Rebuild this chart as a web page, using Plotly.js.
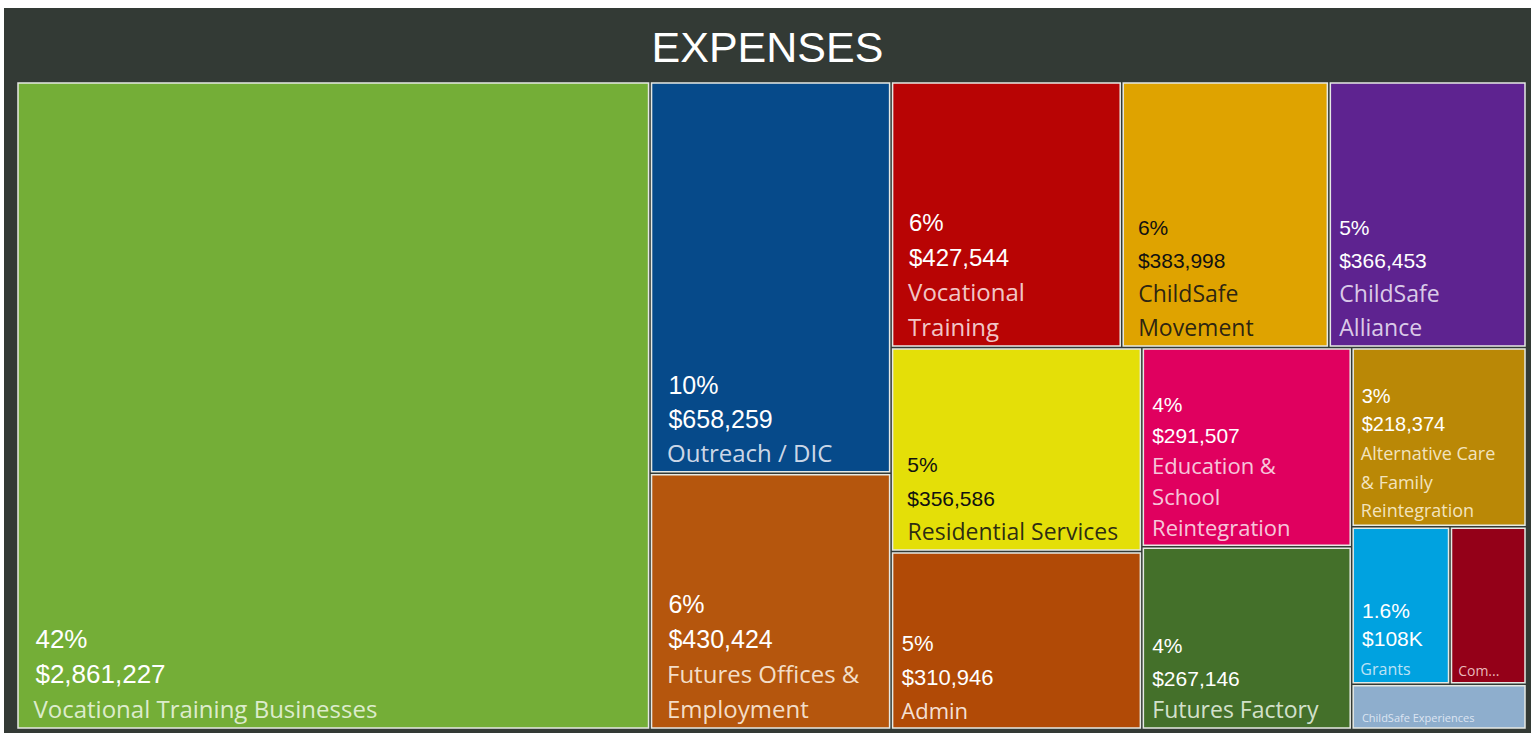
<!DOCTYPE html>
<html>
<head>
<meta charset="utf-8">
<script src="https://cdn.plot.ly/plotly-3.0.1.min.js"></script>
<style>
  html, body { margin: 0; padding: 0; background: #ffffff; width: 1531px; height: 733px; overflow: hidden; }
  #chart { position: absolute; left: 4px; top: 8px; width: 1527px; height: 725px; }
</style>
</head>
<body>
<div id="chart"></div>
<script>
// ---- data ----
const categories = [
  "Vocational Training Businesses",
  "Outreach / DIC",
  "Futures Offices & Employment",
  "Vocational Training",
  "ChildSafe Movement",
  "ChildSafe Alliance",
  "Residential Services",
  "Admin",
  "Education & School Reintegration",
  "Futures Factory",
  "Alternative Care & Family Reintegration",
  "Grants",
  "Com...",
  "ChildSafe Experiences"
];
const displayNames = [
  "Vocational Training Businesses",
  "Outreach / DIC",
  "Futures Offices &<br>Employment",
  "Vocational<br>Training",
  "ChildSafe<br>Movement",
  "ChildSafe<br>Alliance",
  "Residential Services",
  "Admin",
  "Education &<br>School<br>Reintegration",
  "Futures Factory",
  "Alternative Care<br>& Family<br>Reintegration",
  "Grants",
  "Com...",
  "ChildSafe Experiences"
];
const values = [2861227, 658259, 430424, 427544, 383998, 366453, 356586, 310946, 291507, 267146, 218374, 108000, 84000, 55000];
const percentLabels = ["42%", "10%", "6%", "6%", "6%", "5%", "5%", "5%", "4%", "4%", "3%", "1.6%", "", ""];
const valueLabels = ["$2,861,227", "$658,259", "$430,424", "$427,544", "$383,998", "$366,453", "$356,586", "$310,946", "$291,507", "$267,146", "$218,374", "$108K", "", ""];

// ---- styles ----
const colors = ["#74ae37", "#064a8a", "#b5560d", "#b80404", "#dfa300", "#5e2390", "#e4df08", "#b14a06", "#e0005f", "#44702a", "#ba8806", "#00a2e0", "#940018", "#8eaecd"];
const numColor = ["#ffffff","#ffffff","#ffffff","#ffffff","#111111","#ffffff","#111111","#ffffff","#ffffff","#ffffff","#ffffff","#ffffff","#ffffff","#ffffff"];
const nameColor = ["rgba(235,245,225,0.9)","rgba(230,235,245,0.9)","rgba(250,235,220,0.92)","rgba(250,225,225,0.9)","rgba(20,20,20,0.9)","rgba(235,225,245,0.9)","rgba(20,20,20,0.9)","rgba(250,235,225,0.95)","rgba(250,225,235,0.9)","rgba(230,240,225,0.9)","rgba(250,240,215,0.9)","rgba(225,240,250,0.85)","rgba(250,220,220,0.85)","rgba(235,240,250,0.85)"];
const numSize = [26,25,25,24,21,21,21,22,21,21,20,21,0,0];
const nameSize = [24,24,24,24,23,23,23,22,22,23,18,16,14,11];
const baseSize = [27,26,27,27,26,26,26,26,24,25,22,22,14,12];
const padLeft = ["\u00a0\u00a0", "\u00a0\u00a0", "\u00a0\u00a0", "\u00a0\u00a0", "\u00a0\u00a0", "\u00a0", "\u00a0\u00a0", "\u00a0", "\u00a0", "\u00a0", "\u00a0", "\u00a0", "\u00a0", "\u00a0\u00a0"];

const texts = categories.map((c, i) => {
  const parts = [];
  const p = padLeft[i];
  if (percentLabels[i]) parts.push(`<span style="font-family:'Liberation Sans',Arial;font-size:${numSize[i]}px;fill:${numColor[i]}">${p}${percentLabels[i]}</span>`);
  if (valueLabels[i]) parts.push(`<span style="font-family:'Liberation Sans',Arial;font-size:${numSize[i]}px;fill:${numColor[i]}">${p}${valueLabels[i]}</span>`);
  displayNames[i].split("<br>").forEach(line => {
    parts.push(`<span style="font-family:'Open Sans';font-size:${nameSize[i]}px;fill:${nameColor[i]}">${p}${line}</span>`);
  });
  return parts.join("<br>");
});

const trace = {
  type: "treemap",
  labels: categories,
  parents: categories.map(() => ""),
  values: values,
  text: texts,
  texttemplate: "%{text}",
  textposition: "bottom left",
  textfont: { family: "Open Sans", size: baseSize, color: "#ffffff" },
  hoverinfo: "label+value",
  sort: true,
  marker: { colors: colors, line: { color: "#e6e9e4", width: 1.5 }, pad: { t: 0, l: 0, r: 0, b: 0 } },
  pathbar: { visible: false },
  tiling: { packing: "squarify", squarifyratio: 1.06 },
  branchvalues: "remainder"
};

const layout = {
  paper_bgcolor: "#333a35",
  plot_bgcolor: "#333a35",
  margin: { l: 14, r: 6, t: 75, b: 5 },
  title: {
    text: "EXPENSES",
    x: 0.5, xanchor: "center",
    y: 0.946, yanchor: "middle", yref: "container",
    font: { family: "Liberation Sans", size: 43, color: "#ffffff" }
  },
  showlegend: false
};

Plotly.newPlot("chart", [trace], layout, { displayModeBar: false, staticPlot: true });
</script>
</body>
</html>
